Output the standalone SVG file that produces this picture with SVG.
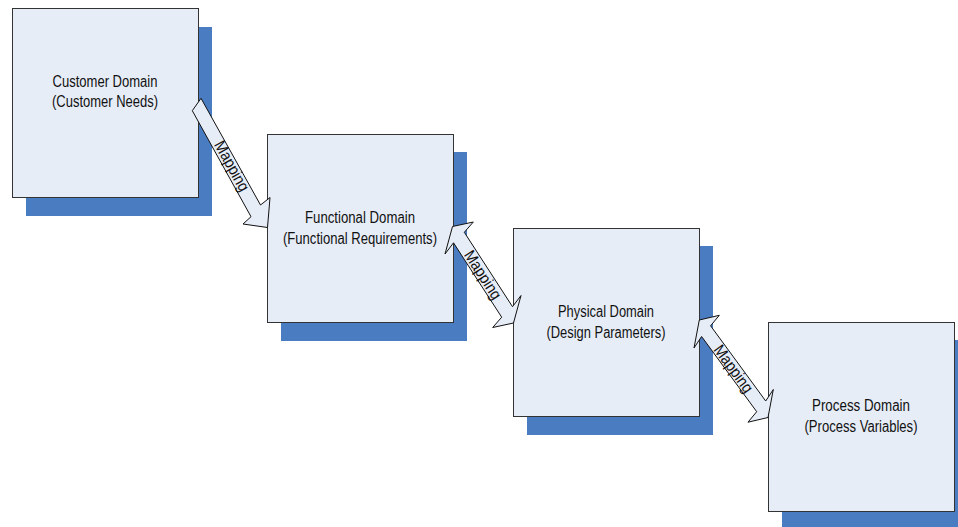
<svg xmlns="http://www.w3.org/2000/svg" width="958" height="527" viewBox="0 0 958 527">
<style>
.shadow{fill:#4A7CC1;stroke:none}
.box{fill:#E7EDF7;stroke:#333333;stroke-width:1}
.lbl{font-family:"Liberation Sans",Arial,sans-serif;font-size:16px;fill:#111111;text-anchor:middle}
.arrow{fill:#E7EDF7;stroke:#111111;stroke-width:1;stroke-linejoin:miter}
.map{font-family:"Liberation Sans",Arial,sans-serif;font-size:16px;fill:#111111;text-anchor:middle}
</style>
<rect x="0" y="0" width="958" height="527" fill="#FFFFFF"/>
<g id="customer-domain">
<rect class="shadow" x="26" y="27" width="186" height="189"/>
<rect class="box" x="12.5" y="8.5" width="186" height="189"/>
<text class="lbl" x="105" y="87" textLength="105" lengthAdjust="spacingAndGlyphs">Customer Domain</text>
<text class="lbl" x="105" y="107" textLength="106" lengthAdjust="spacingAndGlyphs">(Customer Needs)</text>
</g>
<g id="functional-domain">
<rect class="shadow" x="281" y="152" width="186" height="189"/>
<rect class="box" x="267.5" y="134.5" width="186" height="188"/>
<text class="lbl" x="360" y="223" textLength="110" lengthAdjust="spacingAndGlyphs">Functional Domain</text>
<text class="lbl" x="360" y="243.5" textLength="154" lengthAdjust="spacingAndGlyphs">(Functional Requirements)</text>
</g>
<g id="physical-domain">
<rect class="shadow" x="527" y="246" width="186" height="189"/>
<rect class="box" x="513.5" y="228.5" width="186" height="188"/>
<text class="lbl" x="606" y="317" textLength="96" lengthAdjust="spacingAndGlyphs">Physical Domain</text>
<text class="lbl" x="606" y="337.5" textLength="119" lengthAdjust="spacingAndGlyphs">(Design Parameters)</text>
</g>
<g id="process-domain">
<rect class="shadow" x="782" y="340" width="186" height="189"/>
<rect class="box" x="768.5" y="322.5" width="186" height="189"/>
<text class="lbl" x="861" y="411" textLength="98" lengthAdjust="spacingAndGlyphs">Process Domain</text>
<text class="lbl" x="861" y="432" textLength="113" lengthAdjust="spacingAndGlyphs">(Process Variables)</text>
</g>
<g id="connectors">
<g id="map-1">
<polygon class="arrow" points="201,98.3 260.5,205 270,197.5 267.5,227.5 243,224 251,216.7 192.3,110.7"/>
<text class="map" transform="translate(232,166) rotate(61)" x="0" y="5.5" textLength="55" lengthAdjust="spacingAndGlyphs">Mapping</text>
</g>
<g id="map-2">
<polygon class="arrow" points="452.5,226.5 473.3,222 464.3,232.3 512.5,306.7 521,295.5 513.5,323 492.7,327.5 501.7,317.2 453.5,242.8 445,254"/>
<text class="map" transform="translate(483,274.75) rotate(57.1)" x="0" y="5.5" textLength="55" lengthAdjust="spacingAndGlyphs">Mapping</text>
</g>
<g id="map-3">
<polygon class="arrow" points="699.3,320 719.3,315.3 710.6,325.8 765.7,401 773.3,389.5 768,417.5 748,422.2 756.7,411.7 701.6,336.5 694,348"/>
<text class="map" transform="translate(733.65,368.75) rotate(53.8)" x="0" y="5.5" textLength="55" lengthAdjust="spacingAndGlyphs">Mapping</text>
</g>
</g>
</svg>
